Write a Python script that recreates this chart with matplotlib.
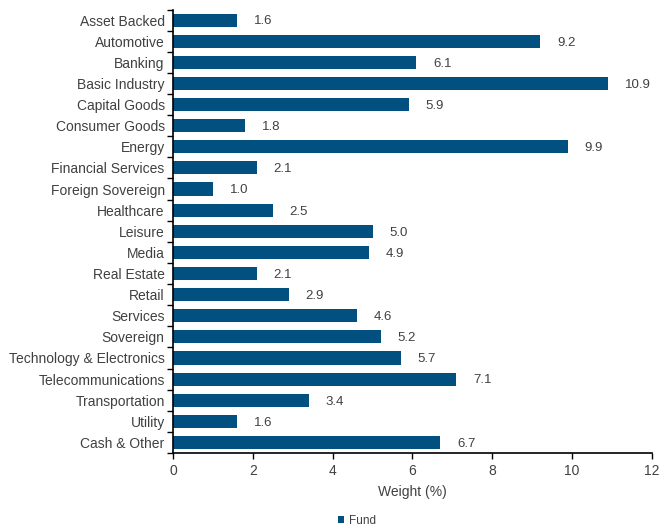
import numpy as np
import matplotlib.pyplot as plt

plt.rcParams['font.family'] = ['Liberation Sans', 'DejaVu Sans']

sectors = ['Asset Backed', 'Automotive', 'Banking', 'Basic Industry', 'Capital Goods',
           'Consumer Goods', 'Energy', 'Financial Services', 'Foreign Sovereign',
           'Healthcare', 'Leisure', 'Media', 'Real Estate', 'Retail', 'Services',
           'Sovereign', 'Technology & Electronics', 'Telecommunications',
           'Transportation', 'Utility', 'Cash & Other']
weights = [1.6, 9.2, 6.1, 10.9, 5.9, 1.8, 9.9, 2.1, 1.0, 2.5, 5.0, 4.9, 2.1, 2.9,
           4.6, 5.2, 5.7, 7.1, 3.4, 1.6, 6.7]
xticks = [0, 2, 4, 6, 8, 10, 12]

navy = '#02507f'
txt = '#404040'

fig = plt.figure(figsize=(6.61, 5.30), dpi=100)
ax = fig.add_axes([0.2617, 0.1453, 0.7247, 0.8367])

y = np.arange(len(sectors))
bars = ax.barh(y, weights, height=0.62, color=navy, label='Fund')
for yi, w in zip(y, weights):
    ax.annotate(f'{w:.1f}', (w, yi), xytext=(12, -1), textcoords='offset points',
                va='center', ha='left', fontsize=9.5, color=txt)

ax.set_ylim(len(sectors) - 0.5, -0.5)
ax.set_xlim(0, 12)
ax.set_xticks(xticks)
ax.set_yticks(y)
ax.set_yticklabels(sectors)
ax.set_yticks(np.arange(len(sectors) + 1) - 0.5, minor=True)
ax.tick_params(axis='y', which='major', length=0, labelsize=10, labelcolor=txt, pad=6)
ax.tick_params(axis='y', which='minor', length=4, width=1, direction='out')
ax.tick_params(axis='x', length=4, width=1, direction='out', labelsize=10, labelcolor=txt, pad=4)
for s in ['top', 'right']:
    ax.spines[s].set_visible(False)
for s in ['left', 'bottom']:
    ax.spines[s].set_linewidth(1.2)
ax.set_xlabel('Weight (%)', fontsize=10, color=txt, labelpad=5)

fig.legend(handles=[bars], labels=['Fund'], loc='center', bbox_to_anchor=(0.54, 0.017),
           frameon=False, fontsize=8.5, handlelength=0.5, handleheight=0.5,
           handletextpad=0.4, labelcolor=txt)

fig.savefig('out.png', dpi=100)
